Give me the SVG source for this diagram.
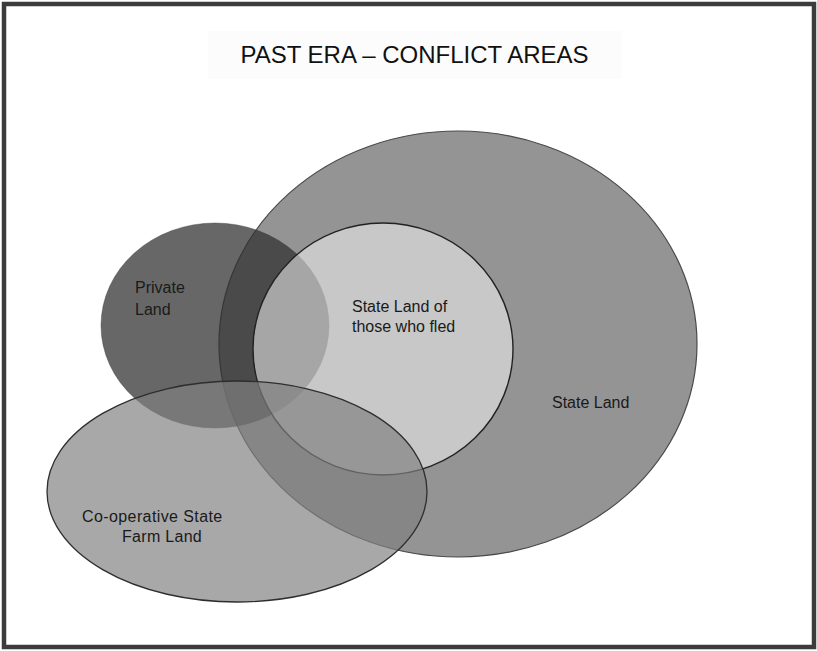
<svg xmlns="http://www.w3.org/2000/svg" width="817" height="651" viewBox="0 0 817 651">
  <style>
    .lbl { font-family: "Liberation Sans", Arial, sans-serif; font-size: 16px; fill: #1a1a1a; }
    .title { font-family: "Liberation Sans", Arial, sans-serif; font-size: 24px; fill: #111; }
  </style>
  <rect x="0" y="0" width="817" height="651" fill="#ffffff"/>
  <rect x="4" y="4" width="810" height="643" fill="#ffffff" stroke="#3c3c3c" stroke-width="4.5"/>
  <g id="title">
    <rect x="208" y="31" width="414" height="48" fill="#fcfcfc"/>
    <text class="title" x="414.5" y="63" text-anchor="middle">PAST ERA – CONFLICT AREAS</text>
  </g>
  <g id="state-land">
    <ellipse cx="458" cy="344" rx="239" ry="213" fill="#949494" stroke="#4a4a4a" stroke-width="1.2"/>
  </g>
  <g id="private-land">
    <ellipse cx="215" cy="325.5" rx="114" ry="102.5" fill="#2e2e2e" fill-opacity="0.73" stroke="#3a3a3a" stroke-opacity="0.4" stroke-width="1"/>
  </g>
  <g id="state-land-fled">
    <ellipse cx="383" cy="349" rx="130" ry="126" fill="#f3f3f3" fill-opacity="0.54" stroke="#222" stroke-width="1.4"/>
  </g>
  <g id="coop-land">
    <ellipse cx="237" cy="491.5" rx="190" ry="110.5" fill="#808080" fill-opacity="0.686" stroke="#2e2e2e" stroke-width="1.3"/>
  </g>
  <g id="labels">
    <text class="lbl" x="135" y="293">Private</text>
    <text class="lbl" x="135" y="315">Land</text>
    <text class="lbl" x="352" y="312">State Land of</text>
    <text class="lbl" x="352" y="332">those who fled</text>
    <text class="lbl" x="552" y="408">State Land</text>
    <text class="lbl" x="82" y="522" letter-spacing="0.4">Co-operative State</text>
    <text class="lbl" x="122" y="542" letter-spacing="0.3">Farm Land</text>
  </g>
</svg>
